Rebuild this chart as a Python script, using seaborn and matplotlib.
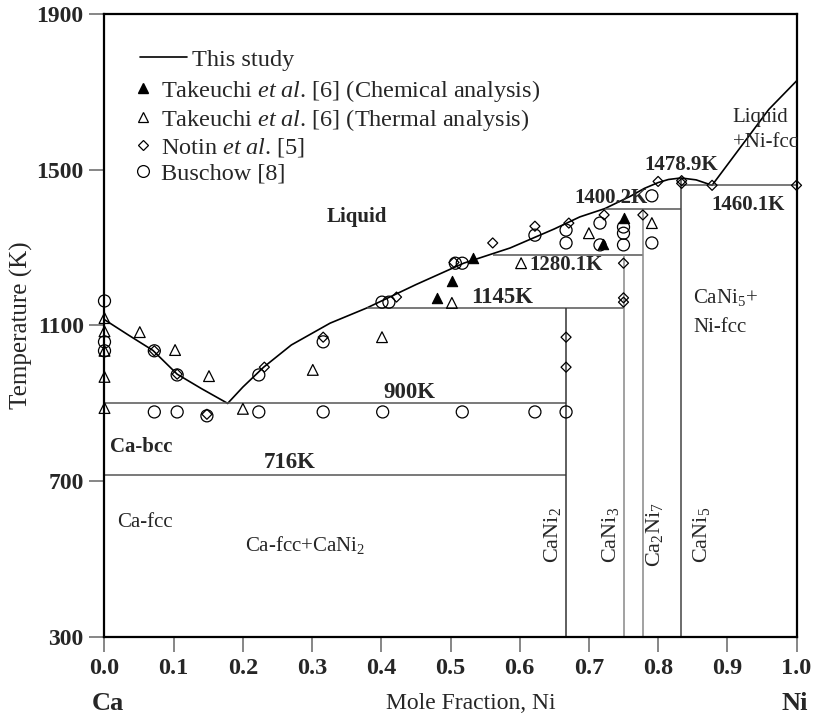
import matplotlib
matplotlib.use("Agg")
import matplotlib.pyplot as plt
import seaborn as sns
from matplotlib.lines import Line2D

# ------------------------------------------------------------
# calculated phase boundaries (this study)
# ------------------------------------------------------------
liq_ca_x = [0.0, 0.035, 0.07, 0.105, 0.14, 0.178]
liq_ca_T = [1115, 1075, 1036, 975, 938, 900]

liq_mid_x = [0.178, 0.20, 0.23, 0.27, 0.326, 0.379, 0.45, 0.519, 0.586, 0.65, 0.687,
             0.723, 0.76, 0.78, 0.80, 0.815, 0.833, 0.855, 0.878]
liq_mid_T = [900, 942, 993, 1050, 1106, 1145, 1205, 1260, 1299, 1348, 1379,
             1400.2, 1432, 1452, 1467, 1475, 1478.9, 1474, 1460.1]

liq_ni_x = [0.878, 0.92, 0.96, 1.0]
liq_ni_T = [1460.1, 1560, 1655, 1728]

# invariant reactions
iso_T = [716, 900, 1145, 1280.1, 1400.2, 1460.1]
iso_x0 = [0.0, 0.0, 0.379, 0.561, 0.723, 0.8333]
iso_x1 = [0.6667, 0.6667, 0.75, 0.7778, 0.8333, 1.0]

# compounds: CaNi2, CaNi3, Ca2Ni7, CaNi5
comp_x = [0.6667, 0.75, 0.7778, 0.8333]
comp_top = [1145, 1280.1, 1400.2, 1478.9]
comp_names = [r"CaNi$_2$", r"CaNi$_3$", r"Ca$_2$Ni$_7$", r"CaNi$_5$"]

# ------------------------------------------------------------
# experimental data
# ------------------------------------------------------------
chem_x = [0.480, 0.502, 0.532, 0.720, 0.75]
chem_T = [1170, 1214, 1273, 1309, 1376]

therm_x = [0, 0, 0, 0, 0, 0.051, 0.102, 0.151, 0.200, 0.301, 0.401, 0.502, 0.602, 0.700, 0.791]
therm_T = [1119, 1085, 1035, 968, 888, 1083, 1037, 970, 886, 986, 1070, 1158, 1260, 1337, 1363]

notin_x = [0.072, 0.105, 0.148, 0.231, 0.316, 0.422, 0.505, 0.561, 0.622, 0.671, 0.667, 0.667,
           0.722, 0.75, 0.75, 0.75, 0.778, 0.80, 0.834, 0.834, 0.878, 1.0]
notin_T = [1035, 975, 872, 993, 1070, 1173, 1262, 1312, 1355, 1363, 1070, 993,
           1384, 1260, 1171, 1160, 1384, 1470, 1472, 1465, 1460, 1460]

busch_x = [0, 0, 0, 0.072, 0.105, 0.223, 0.316, 0.401, 0.411, 0.507, 0.517, 0.622, 0.667, 0.667,
           0.716, 0.716, 0.75, 0.75, 0.75, 0.791, 0.791,
           0.072, 0.105, 0.148, 0.223, 0.316, 0.402, 0.517, 0.622, 0.667]
busch_T = [1163, 1058, 1035, 1035, 973, 973, 1058, 1160, 1160, 1260, 1260, 1332, 1345, 1312,
           1363, 1307, 1353, 1337, 1307, 1433, 1312,
           878, 878, 868, 878, 878, 878, 878, 878, 878]

x_ticks = [0.0, 0.1, 0.2, 0.3, 0.4, 0.5, 0.6, 0.7, 0.8, 0.9, 1.0]
y_ticks = [300, 700, 1100, 1500, 1900]

# ------------------------------------------------------------
# style
# ------------------------------------------------------------
sns.set_style("ticks")
plt.rcParams["font.family"] = ["Liberation Serif", "DejaVu Serif"]
plt.rcParams["mathtext.fontset"] = "custom"
plt.rcParams["mathtext.rm"] = "Liberation Serif"
plt.rcParams["mathtext.it"] = "Liberation Serif:italic"
plt.rcParams["mathtext.bf"] = "Liberation Serif:bold"

fig = plt.figure(figsize=(8.19, 7.19), dpi=100)
ax = fig.add_axes([104.5 / 819, 82 / 719, 692 / 819, 623 / 719])

# liquidus
for xs, ts in [(liq_ca_x, liq_ca_T), (liq_mid_x, liq_mid_T), (liq_ni_x, liq_ni_T)]:
    sns.lineplot(x=xs, y=ts, color="black", lw=1.2, sort=False, estimator=None, ax=ax)

# invariant lines
ax.hlines(iso_T, iso_x0, iso_x1, color="#555555", lw=1.1)
comp_col = ["#333333", "#888888", "#888888", "#444444"]
ax.vlines(comp_x, 300, comp_top, colors=comp_col, lw=1.1)

# experimental points
sns.scatterplot(x=chem_x, y=chem_T, marker="^", s=55, color="black", edgecolor="black",
                linewidth=0.8, clip_on=False, zorder=4, ax=ax)
sns.scatterplot(x=therm_x, y=therm_T, marker="^", s=60, facecolor="none", edgecolor="black",
                linewidth=0.9, clip_on=False, zorder=4, ax=ax)
sns.scatterplot(x=notin_x, y=notin_T, marker="D", s=26, facecolor="none", edgecolor="black",
                linewidth=0.9, clip_on=False, zorder=4, ax=ax)
sns.scatterplot(x=busch_x, y=busch_T, marker="o", s=75, facecolor="none", edgecolor="black",
                linewidth=0.9, clip_on=False, zorder=4, ax=ax)

# axes
ax.set_xlim(0, 1)
ax.set_ylim(300, 1900)
ax.set_xticks(x_ticks)
ax.set_yticks(y_ticks)
ax.set_xticklabels([f"{v:.1f}" for v in x_ticks], fontsize=17.5, fontweight="bold")
ax.set_yticklabels([str(v) for v in y_ticks], fontsize=17, fontweight="bold")
ax.tick_params(axis="both", direction="out", length=11, width=1.1, color="#666666", pad=4)
for sp in ax.spines.values():
    sp.set_linewidth(1.6)
    sp.set_color("black")

ax.set_ylabel("Temperature (K)", fontsize=18)
ax.yaxis.set_label_coords(-0.103, 0.5)
ax.set_xlabel("Mole Fraction, Ni", fontsize=17)
ax.xaxis.set_label_coords(0.53, -0.09)
ax.text(0.005, -0.106, "Ca", transform=ax.transAxes, fontsize=19, fontweight="bold",
        ha="center", va="center")
ax.text(0.997, -0.106, "Ni", transform=ax.transAxes, fontsize=19, fontweight="bold",
        ha="center", va="center")

# region / reaction labels
lab = dict(fontsize=15, ha="center", va="center")
big = dict(fontsize=16.5, ha="center", va="center", fontweight="bold")
ax.text(0.365, 1379, "Liquid", fontweight="bold", **lab)
ax.text(0.441, 927, "900K", **big)
ax.text(0.267, 749, "716K", **big)
ax.text(0.574, 1173, "1145K", **big)
ax.text(0.667, 1255, "1280.1K", fontweight="bold", **lab)
ax.text(0.732, 1427, "1400.2K", fontweight="bold", **lab)
ax.text(0.833, 1512, "1478.9K", fontweight="bold", **lab)
ax.text(0.930, 1409, "1460.1K", fontweight="bold", **lab)
ax.text(0.008, 788, "Ca-bcc", fontsize=15, fontweight="bold", ha="left", va="center")
ax.text(0.018, 595, "Ca-fcc", fontsize=15, ha="left", va="center")
ax.text(0.29, 536, r"Ca-fcc+CaNi$_2$", **lab)
ax.text(0.851, 1171, r"CaNi$_5$+", fontsize=15, ha="left", va="center")
ax.text(0.851, 1096, "Ni-fcc", fontsize=15, ha="left", va="center")
ax.text(0.947, 1635, "Liquid", **lab)
ax.text(0.955, 1569, "+Ni-fcc", **lab)
for cx, name in zip([0.648, 0.731, 0.795, 0.863], comp_names):
    ax.text(cx, 562, name, rotation=90, fontsize=16, ha="center", va="center")

# legends
et = r"$\mathit{et\ al}$."
leg_line = ax.legend(handles=[Line2D([], [], color="black", lw=1.2)], labels=["This study"],
                     loc="upper left", bbox_to_anchor=(0.051, 0.944), frameon=False,
                     fontsize=17.5, handlelength=1.93, handletextpad=0.2, borderpad=0,
                     borderaxespad=0)
ax.add_artist(leg_line)
mk = dict(color="none", markeredgecolor="black", markeredgewidth=0.9, linestyle="none")
handles = [
    Line2D([], [], marker="^", markersize=7, color="black", linestyle="none"),
    Line2D([], [], marker="^", markersize=7.5, markerfacecolor="none", **mk),
    Line2D([], [], marker="D", markersize=5, markerfacecolor="none", **mk),
    Line2D([], [], marker="o", markersize=8.5, markerfacecolor="none", **mk),
]
labels = [
    f"Takeuchi {et} [6] (Chemical analysis)",
    f"Takeuchi {et} [6] (Thermal analysis)",
    f"Notin {et} [5]",
    "Buschow [8]",
]
ax.legend(handles=handles, labels=labels, loc="upper left", bbox_to_anchor=(0.0455, 0.898),
          frameon=False, fontsize=17.5, handlelength=0.6, handletextpad=0.43, borderpad=0,
          borderaxespad=0, labelspacing=0.13)

fig.savefig("out.png", dpi=100)
